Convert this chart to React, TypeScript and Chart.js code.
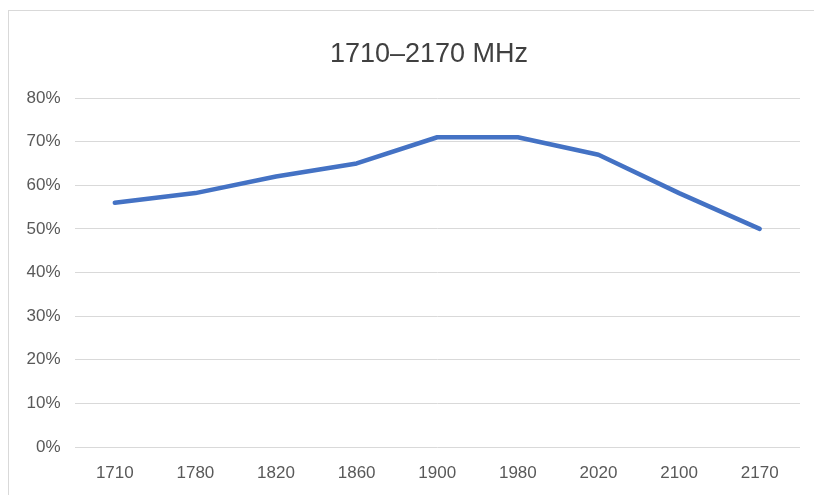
import React, { useEffect, useRef } from "react";
import { Chart, registerables } from "chart.js";

Chart.register(...registerables);

const categories = ["1710", "1780", "1820", "1860", "1900", "1980", "2020", "2100", "2170"];
const efficiency = [56, 58.2, 62, 65, 71, 71, 67, 58.2, 50];
const yTicks = [0, 10, 20, 30, 40, 50, 60, 70, 80];
const titleText = "1710–2170 MHz";

const framePlugin = {
  id: "frameAndTitle",
  beforeDraw(chart: any) {
    const ctx = chart.ctx;
    ctx.save();
    ctx.fillStyle = "#ffffff";
    ctx.fillRect(0, 0, chart.width, chart.height);
    ctx.strokeStyle = "#d9d9d9";
    ctx.lineWidth = 1;
    ctx.strokeRect(8.5, 10.5, chart.width + 10, chart.height + 10);
    ctx.restore();
  },
  afterDraw(chart: any) {
    const ctx = chart.ctx;
    ctx.save();
    ctx.fillStyle = "#404040";
    ctx.font = "27px 'Liberation Sans', Arial, sans-serif";
    ctx.textAlign = "center";
    ctx.textBaseline = "alphabetic";
    ctx.fillText(titleText, 429, 61.7);
    ctx.restore();
  },
};

export default function App() {
  const ref = useRef<HTMLCanvasElement | null>(null);

  useEffect(() => {
    if (!ref.current) return;
    const chart = new Chart(ref.current, {
      type: "line",
      data: {
        labels: categories,
        datasets: [
          {
            data: efficiency,
            borderColor: "#4472C4",
            backgroundColor: "#4472C4",
            borderWidth: 4.5,
            pointRadius: 0,
            tension: 0,
            borderCapStyle: "round",
            borderJoinStyle: "round",
          },
        ],
      },
      options: {
        animation: false,
        responsive: false,
        maintainAspectRatio: false,
        layout: { padding: { left: 8, right: 14, top: 98, bottom: 0 } },
        plugins: {
          legend: { display: false },
          tooltip: { enabled: false },
          title: { display: false },
        },
        scales: {
          x: {
            offset: true,
            grid: { display: false },
            border: { display: false },
            ticks: {
              color: "#595959",
              font: { family: "'Liberation Sans', Arial, sans-serif", size: 17 },
              padding: 8,
              maxRotation: 0,
            },
            afterFit(scale: any) {
              scale.height = 48;
            },
          },
          y: {
            min: 0,
            max: 80,
            afterBuildTicks(scale: any) {
              scale.ticks = yTicks.map((v) => ({ value: v }));
            },
            grid: { color: "#d9d9d9", lineWidth: 1, drawTicks: false },
            border: { display: false },
            ticks: {
              color: "#595959",
              font: { family: "'Liberation Sans', Arial, sans-serif", size: 17 },
              padding: 14,
              callback: (v: any) => v + "%",
            },
            afterFit(scale: any) {
              scale.width = 66.5;
            },
          },
        },
      },
      plugins: [framePlugin],
    });
    return () => chart.destroy();
  }, []);

  return (
    <div style={{ position: "absolute", left: 0, top: 0, width: 814, height: 495, background: "#fff" }}>
      <canvas ref={ref} width={814} height={495} style={{ display: "block" }} />
    </div>
  );
}
